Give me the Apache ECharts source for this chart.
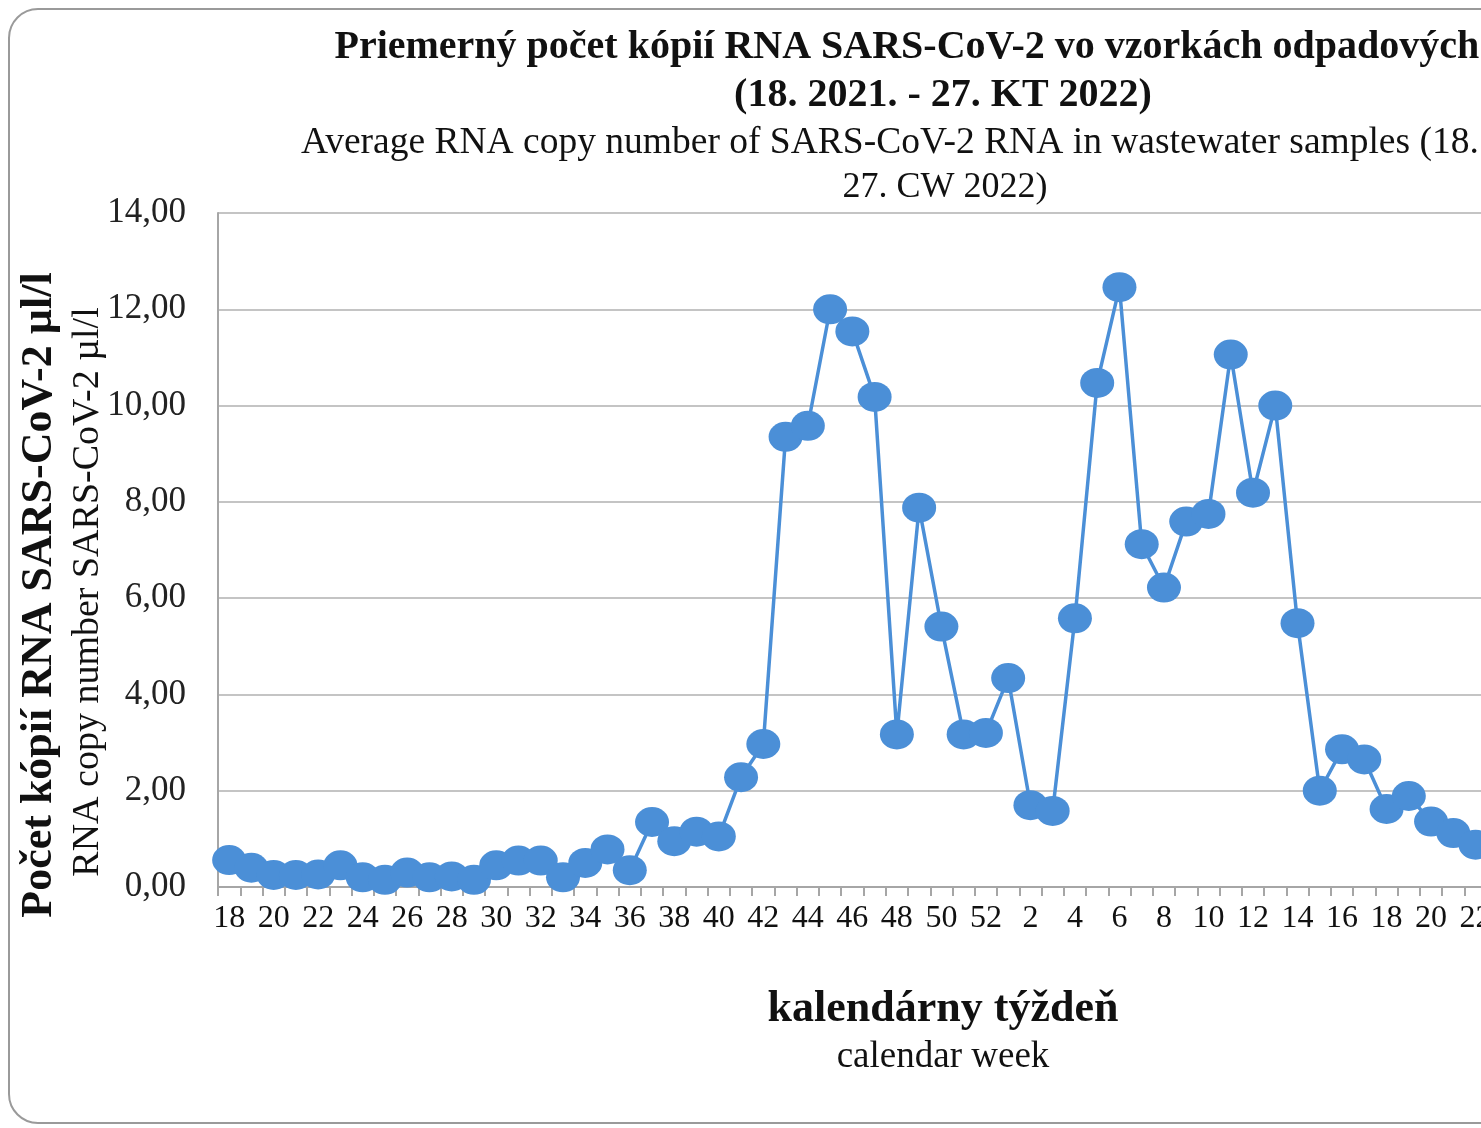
<!DOCTYPE html>
<html lang="sk">
<head>
    <meta charset="utf-8">
    <script src="https://cdn.jsdelivr.net/npm/echarts@6/dist/echarts.min.js"></script>
    <style>
        html, body {
            margin: 0px;
            padding: 0px;
            width: 1481px;
            height: 1128px;
            overflow: hidden;
            background: #fff;
        }
        #frame {
            position: absolute;
            left: 8px;
            top: 8px;
            width: 1890px;
            height: 1112px;
            border: 2px solid #9a9a9a;
            border-radius: 30px;
        }
        #chart {
            position: absolute;
            left: 0px;
            top: 0px;
            width: 1900px;
            height: 1128px;
        }
    </style>
</head>
<body>
    <div id="frame"></div>
    <div id="chart"></div>
    <script type="text/javascript">
        // kalendarne tyzdne 18/2021 - 27/2022
        var weeks = ['18','19','20','21','22','23','24','25','26','27','28','29','30','31','32','33','34','35',
                     '36','37','38','39','40','41','42','43','44','45','46','47','48','49','50','51','52',
                     '1','2','3','4','5','6','7','8','9','10','11','12','13','14','15','16','17','18',
                     '19','20','21','22','23','24','25','26','27'];

        // priemerny pocet kopii RNA (µl/l)
        var rnaCopies = [0.56, 0.40, 0.25, 0.25, 0.26, 0.45, 0.20, 0.15, 0.30, 0.20, 0.22, 0.15, 0.45, 0.55, 0.55, 0.20, 0.50, 0.78,
                         0.35, 1.35, 0.95, 1.15, 1.05, 2.28, 2.97, 9.35, 9.58, 12.00, 11.54, 10.18, 3.17, 7.88, 5.41, 3.17, 3.20,
                         4.34, 1.70, 1.58, 5.58, 10.47, 12.46, 7.12, 6.22, 7.59, 7.75, 11.06, 8.19, 10.00, 5.48, 2.00, 2.86, 2.65, 1.62,
                         1.89, 1.36, 1.12, 0.88, 0.72, 0.62, 0.52, 0.48, 0.42];

        var yTicks = [0, 2, 4, 6, 8, 10, 12, 14];

        var serif = '"Liberation Serif", "Times New Roman", serif';
        var blue = '#4b8fd7';

        var myChart = echarts.init(document.getElementById('chart'));

        var option = {
            animation: false,
            backgroundColor: 'transparent',
            grid: {
                left: 218,
                top: 213,
                width: 1380,
                height: 674,
                containLabel: false
            },
            xAxis: {
                type: 'category',
                data: weeks,
                boundaryGap: true,
                axisLine: { lineStyle: { color: '#a6a6a6', width: 2 } },
                axisTick: { show: true, interval: 0, length: 9, lineStyle: { color: '#a6a6a6', width: 2 } },
                axisLabel: {
                    interval: 1,
                    margin: 16,
                    color: '#111',
                    fontFamily: serif,
                    fontSize: 32
                },
                splitLine: { show: false }
            },
            yAxis: {
                type: 'value',
                min: yTicks[0],
                max: yTicks[yTicks.length - 1],
                interval: 2,
                axisLine: { show: true, lineStyle: { color: '#a6a6a6', width: 2 } },
                axisTick: { show: false },
                axisLabel: {
                    margin: 32,
                    color: '#222',
                    fontFamily: serif,
                    fontSize: 35,
                    formatter: function (v) { return v.toFixed(2).replace('.', ','); }
                },
                splitLine: { lineStyle: { color: '#c4c4c4', width: 2 } }
            },
            graphic: [
                { type: 'text', x: 943, y: 48, style: { text: 'Priemerný počet kópií RNA SARS-CoV-2 vo vzorkách odpadových vôd', align: 'center', verticalAlign: 'middle', fontFamily: serif, fontWeight: 'bold', fontSize: 40, fill: '#111' } },
                { type: 'text', x: 943, y: 96, style: { text: '(18. 2021. - 27. KT 2022)', align: 'center', verticalAlign: 'middle', fontFamily: serif, fontWeight: 'bold', fontSize: 40, fill: '#111' } },
                { type: 'text', x: 943, y: 143, style: { text: 'Average RNA copy number of SARS-CoV-2 RNA in wastewater samples (18. 2021 -', align: 'center', verticalAlign: 'middle', fontFamily: serif, fontSize: 37.5, fill: '#111' } },
                { type: 'text', x: 945, y: 188, style: { text: '27. CW 2022)', align: 'center', verticalAlign: 'middle', fontFamily: serif, fontSize: 36, fill: '#111' } },
                { type: 'text', x: 943, y: 1010, style: { text: 'kalendárny týždeň', align: 'center', verticalAlign: 'middle', fontFamily: serif, fontWeight: 'bold', fontSize: 44, fill: '#111' } },
                { type: 'text', x: 943, y: 1057, style: { text: 'calendar week', align: 'center', verticalAlign: 'middle', fontFamily: serif, fontSize: 37, fill: '#111' } },
                { type: 'text', x: 40, y: 595, rotation: Math.PI / 2, style: { text: 'Počet kópií RNA SARS-CoV-2 µl/l', align: 'center', verticalAlign: 'middle', fontFamily: serif, fontWeight: 'bold', fontSize: 44, fill: '#111' } },
                { type: 'text', x: 88, y: 592, rotation: Math.PI / 2, style: { text: 'RNA copy number SARS-CoV-2 µl/l', align: 'center', verticalAlign: 'middle', fontFamily: serif, fontSize: 38, fill: '#111' } }
            ],
            series: [{
                name: 'RNA',
                type: 'line',
                data: rnaCopies,
                symbol: 'circle',
                symbolSize: [34, 30],
                showAllSymbol: true,
                itemStyle: { color: blue },
                lineStyle: { color: blue, width: 3.5 }
            }]
        };

        myChart.setOption(option);
    </script>
</body>
</html>
